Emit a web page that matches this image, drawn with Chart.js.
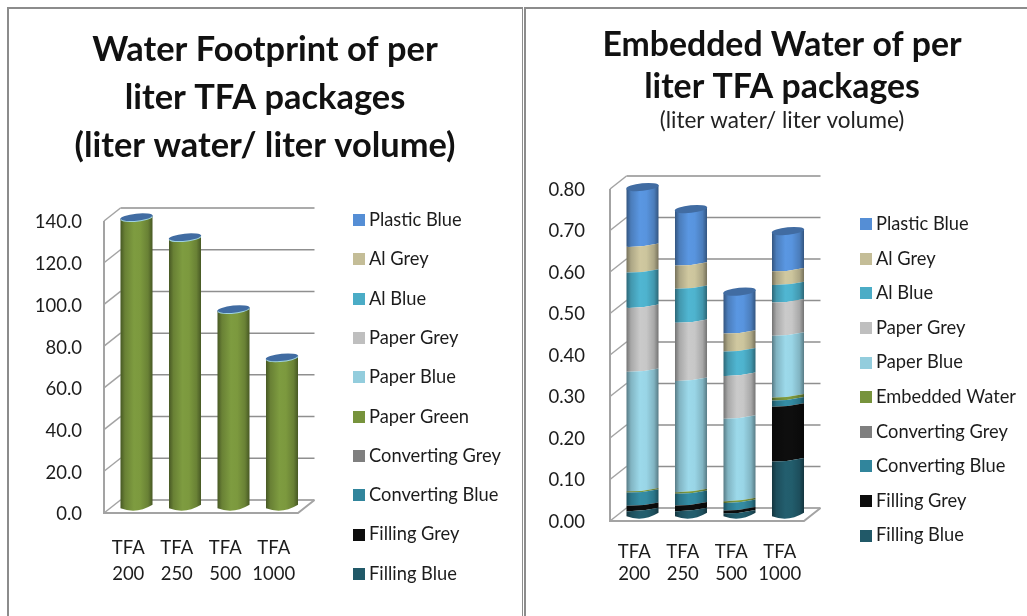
<!DOCTYPE html>
<html>
<head>
<meta charset="utf-8">
<title>TFA package water use</title>
<script src="https://cdn.jsdelivr.net/npm/chart.js@4/dist/chart.umd.min.js"></script>
<style>
  html, body { margin: 0; padding: 0; background: #fff; overflow: hidden; }
  #page { position: relative; width: 1027px; height: 616px; }
  canvas { position: absolute; top: 0; }
  .rule { position: absolute; background: #8c8c8c; }
</style>
</head>
<body>
<div id="page">
  <div class="rule" style="left:7px;top:7px;width:516px;height:2px"></div>
  <div class="rule" style="left:7px;top:7px;width:2px;height:609px"></div>
  <div class="rule" style="left:522px;top:7px;width:1px;height:609px"></div>
  <div class="rule" style="left:524px;top:7px;width:503px;height:2px"></div>
  <div class="rule" style="left:524px;top:7px;width:2px;height:609px"></div>
  <canvas id="footprint" style="left:0" width="530" height="616"></canvas>
  <canvas id="embedded" style="left:537px" width="490" height="616"></canvas>
</div>
<script>
// Categories and tick settings
const packages = [["TFA", "200"], ["TFA", "250"], ["TFA", "500"], ["TFA", "1000"]];

// Water footprint, liter water per liter volume
const footprintPaperGreen = [138.6, 129.0, 94.5, 71.4];
const footprintEmpty = [0, 0, 0, 0];

// Embedded water, liter water per liter volume
const fillingBlue     = [0.012, 0.012, 0.007, 0.132];
const fillingGrey     = [0.013, 0.014, 0.007, 0.132];
const convertingBlue  = [0.032, 0.028, 0.018, 0.015];
const convertingGrey  = [0.000, 0.000, 0.000, 0.000];
const embeddedWater   = [0.003, 0.004, 0.004, 0.007];
const paperBlue       = [0.288, 0.268, 0.199, 0.149];
const paperGrey       = [0.154, 0.140, 0.103, 0.080];
const alBlue          = [0.085, 0.082, 0.059, 0.042];
const alGrey          = [0.062, 0.056, 0.043, 0.033];
const plasticBlue     = [0.140, 0.132, 0.097, 0.093];

// Series colours, bottom of the stack first
const seriesColors = ["#215968", "#0D0D0D", "#31859C", "#7F7F7F", "#77933C",
                      "#93CDDD", "#BFBFBF", "#4BACC6", "#C4BD97", "#558ED5"];

const FONT = "Lato, 'Open Sans', sans-serif";
const INK = "#1c1c1c";
const WALL = "#a3a3a3";
const GRID = "#8f8f8f";
const DEPTH = { x: 16.5, y: -13 };         // back wall offset from the front axes
const TILT = 1.7;                          // rise of a slice edge across half a cylinder
const EDGE_BOW = 1;                        // bow of an edge between two slices
const FOOT_BOW = 4;                        // bow of the cylinder's foot
const CAP_RY = 3.8;
const KEY_SIZE = 12;

function shade(hex, f) {
  const n = parseInt(hex.slice(1), 16);
  const ch = (v) => Math.min(255, Math.round(v * f));
  return `rgb(${ch(n >> 16)},${ch((n >> 8) & 255)},${ch(n & 255)})`;
}

// Legend keys are small painted squares, so the text can sit close to them
function keySwatch(color) {
  const c = document.createElement("canvas");
  c.width = c.height = KEY_SIZE;
  const k = c.getContext("2d");
  k.fillStyle = color;
  k.fillRect(0, 0, KEY_SIZE, KEY_SIZE);
  return c;
}

let footPixel = 0;

// Bars are drawn as slices of a cylinder: shaded sideways, with curved edges
Chart.BarElement.prototype.draw = function (ctx) {
  const { x, y, base, width } = this;
  if (Math.abs(base - y) < 0.05) return;
  const l = x - width / 2, r = x + width / 2;
  const color = this.options.backgroundColor;
  const g = ctx.createLinearGradient(l, 0, r, 0);
  g.addColorStop(0, shade(color, 0.6));
  g.addColorStop(0.14, shade(color, 0.88));
  g.addColorStop(0.42, shade(color, 1.06));
  g.addColorStop(0.62, shade(color, 1.04));
  g.addColorStop(0.86, shade(color, 0.88));
  g.addColorStop(1, shade(color, 0.6));
  const bottomBow = Math.abs(base - footPixel) < 0.5 ? FOOT_BOW : EDGE_BOW;
  ctx.save();
  ctx.fillStyle = g;
  ctx.beginPath();
  ctx.moveTo(l, y + TILT);
  ctx.quadraticCurveTo(x, y + EDGE_BOW * 2, r, y - TILT);
  ctx.lineTo(r, base - TILT);
  ctx.quadraticCurveTo(x, base + bottomBow * 2, l, base + TILT);
  ctx.closePath();
  ctx.fill();
  ctx.restore();
};

const cylinderScene = {
  id: "cylinderScene",
  beforeLayout(chart) {
    // The legend keeps a fixed band to the right of the plot
    const spot = chart.options.plugins.cylinderScene;
    const legend = chart.legend;
    if (!legend.$bandSet) {
      const fit = legend.fit;
      legend.fit = function () {
        fit.call(this);
        this.width = spot.band;
      };
      legend.$bandSet = true;
    }
  },
  beforeDraw(chart) {
    const spot = chart.options.plugins.cylinderScene;
    const legend = chart.legend;
    legend.left = spot.legendX;
    legend.right = chart.width;
    legend.top = spot.legendY;
    legend.bottom = chart.height;
  },
  beforeDatasetsDraw(chart) {
    const { ctx, chartArea: a, scales } = chart;
    const yAxis = scales.y;
    footPixel = yAxis.getPixelForValue(0);
    const dx = DEPTH.x, dy = DEPTH.y;
    ctx.save();
    ctx.lineCap = "butt";
    // Back wall rules and their returns along the side wall
    yAxis.ticks.forEach((t, i) => {
      const py = yAxis.getPixelForTick(i);
      ctx.strokeStyle = GRID;
      ctx.lineWidth = 1.5;
      ctx.beginPath();
      ctx.moveTo(a.left + dx, py + dy);
      ctx.lineTo(a.right + dx, py + dy);
      ctx.stroke();
      ctx.strokeStyle = WALL;
      ctx.lineWidth = 1.5;
      ctx.beginPath();
      ctx.moveTo(a.left, py);
      ctx.lineTo(a.left + dx, py + dy);
      ctx.stroke();
    });
    // Front axis and floor
    ctx.strokeStyle = WALL;
    ctx.lineWidth = 2;
    ctx.beginPath();
    ctx.moveTo(a.left, a.top);
    ctx.lineTo(a.left, footPixel);
    ctx.lineTo(a.right, footPixel);
    ctx.lineTo(a.right + dx, footPixel + dy);
    ctx.stroke();
    ctx.restore();
    // Cylinders stand halfway between the front axes and the back wall
    ctx.save();
    ctx.translate(dx / 2, dy / 2);
  },
  afterDatasetsDraw(chart) {
    const { ctx } = chart;
    const last = chart.data.datasets.length - 1;
    const color = chart.data.datasets[last].backgroundColor;
    chart.getDatasetMeta(last).data.forEach((bar) => {
      const thin = Math.abs(bar.base - bar.y) < 0.5;
      ctx.save();
      ctx.translate(bar.x, bar.y);
      ctx.rotate(-0.1);
      ctx.fillStyle = shade(color, 0.76);
      ctx.beginPath();
      ctx.ellipse(0, 0, bar.width / 2 + 0.3, CAP_RY, 0, 0, Math.PI * 2);
      ctx.fill();
      if (thin) {
        // A slice too thin to show only leaves a pale rim below the cap
        ctx.strokeStyle = "#9fd3e0";
        ctx.lineWidth = 1;
        ctx.beginPath();
        ctx.ellipse(0, 0, bar.width / 2, CAP_RY, 0, 0.15, Math.PI - 0.15);
        ctx.stroke();
      }
      ctx.restore();
    });
    ctx.restore();
  }
};

function buildChart(id, cfg) {
  // Key width that leaves 16px between a square's left edge and its text
  const keyStep = 2 * (10 - cfg.legendSize / 2);
  return new Chart(document.getElementById(id), {
    type: "bar",
    plugins: [cylinderScene],
    data: {
      labels: packages,
      datasets: cfg.series.map(([label, data], i) => ({
        label, data,
        backgroundColor: seriesColors[i],
        borderWidth: 0,
        clip: false,
        categoryPercentage: 1,
        barPercentage: 0.66
      }))
    },
    options: {
      responsive: false,
      animation: false,
      layout: { padding: 0 },
      plugins: {
        tooltip: { enabled: false },
        cylinderScene: {
          band: cfg.legendBand,
          legendX: cfg.legendKeyX + KEY_SIZE / 2 - keyStep / 2 - cfg.legendGap,
          legendY: cfg.legendY - cfg.legendGap
        },
        title: {
          display: true,
          text: cfg.title,
          color: "#111",
          font: { family: FONT, size: cfg.titleSize, weight: "bold", lineHeight: cfg.titleLine / cfg.titleSize },
          padding: cfg.titlePadding
        },
        subtitle: cfg.subtitle ? {
          display: true,
          text: cfg.subtitle,
          color: "#222",
          font: { family: FONT, size: 22.5, lineHeight: 24 / 22.5 },
          padding: cfg.subtitlePadding
        } : { display: false },
        legend: {
          display: true,
          position: "right",
          align: "start",
          reverse: true,
          maxHeight: 600,
          labels: {
            color: INK,
            usePointStyle: true,
            pointStyleWidth: keyStep,
            boxHeight: KEY_SIZE,
            padding: cfg.legendGap,
            font: { family: FONT, size: cfg.legendSize },
            generateLabels: (chart) => chart.data.datasets.map((ds, i) => ({
              text: ds.label,
              fontColor: INK,
              fillStyle: ds.backgroundColor,
              lineWidth: 0,
              hidden: false,
              pointStyle: keySwatch(ds.backgroundColor),
              datasetIndex: i
            }))
          }
        }
      },
      scales: {
        x: {
          stacked: true,
          afterFit(axis) { axis.height = cfg.xAxisHeight; },
          grid: { display: false, drawTicks: false },
          border: { display: false },
          ticks: {
            color: INK,
            maxRotation: 0,
            autoSkip: false,
            padding: cfg.xPad,
            font: { family: FONT, size: 18.5, lineHeight: cfg.xLine / 18.5 }
          }
        },
        y: {
          stacked: true,
          min: 0,
          max: cfg.yMax,
          afterFit(axis) { axis.width = cfg.yAxisWidth; },
          grid: { display: false, drawTicks: false },
          border: { display: false },
          ticks: {
            stepSize: cfg.yStep,
            color: INK,
            padding: cfg.yPad,
            labelOffset: cfg.yLabelShift,
            font: { family: FONT, size: 18.5 },
            callback: (v) => Number(v).toFixed(cfg.yDigits)
          }
        }
      }
    }
  });
}

buildChart("footprint", {
  title: ["Water Footprint of per", "liter TFA packages", "(liter water/ liter volume)"],
  titleSize: 34.4, titleLine: 48,
  titlePadding: { top: 26, bottom: 51 },
  series: [
    ["Filling Blue", footprintEmpty],
    ["Filling Grey", footprintEmpty],
    ["Converting Blue", footprintEmpty],
    ["Converting Grey", footprintEmpty],
    ["Paper Green", footprintPaperGreen],
    ["Paper Blue", footprintEmpty],
    ["Paper Grey", footprintEmpty],
    ["Al Blue", footprintEmpty],
    ["Al Grey", footprintEmpty],
    ["Plastic Blue", footprintEmpty]
  ],
  yMax: 140, yStep: 20, yDigits: 1, yAxisWidth: 104, yPad: 22, yLabelShift: 1.5,
  xAxisHeight: 103, xPad: 22, xLine: 26,
  legendBand: 232,
  legendKeyX: 353, legendY: 211, legendGap: 21, legendSize: 18.3
});

buildChart("embedded", {
  title: ["Embedded Water of per", "liter TFA packages"],
  titleSize: 33.8, titleLine: 42,
  titlePadding: { top: 24, bottom: 1 },
  subtitle: "(liter water/ liter volume)",
  subtitlePadding: { top: 0, bottom: 56 },
  series: [
    ["Filling Blue", fillingBlue],
    ["Filling Grey", fillingGrey],
    ["Converting Blue", convertingBlue],
    ["Converting Grey", convertingGrey],
    ["Embedded Water", embeddedWater],
    ["Paper Blue", paperBlue],
    ["Paper Grey", paperGrey],
    ["Al Blue", alBlue],
    ["Al Grey", alGrey],
    ["Plastic Blue", plasticBlue]
  ],
  yMax: 0.8, yStep: 0.1, yDigits: 2, yAxisWidth: 73, yPad: 25, yLabelShift: 0.7,
  xAxisHeight: 95, xPad: 20, xLine: 22,
  legendBand: 223,
  legendKeyX: 860 - 537, legendY: 215, legendGap: 16.3, legendSize: 18.3
});
</script>
</body>
</html>
